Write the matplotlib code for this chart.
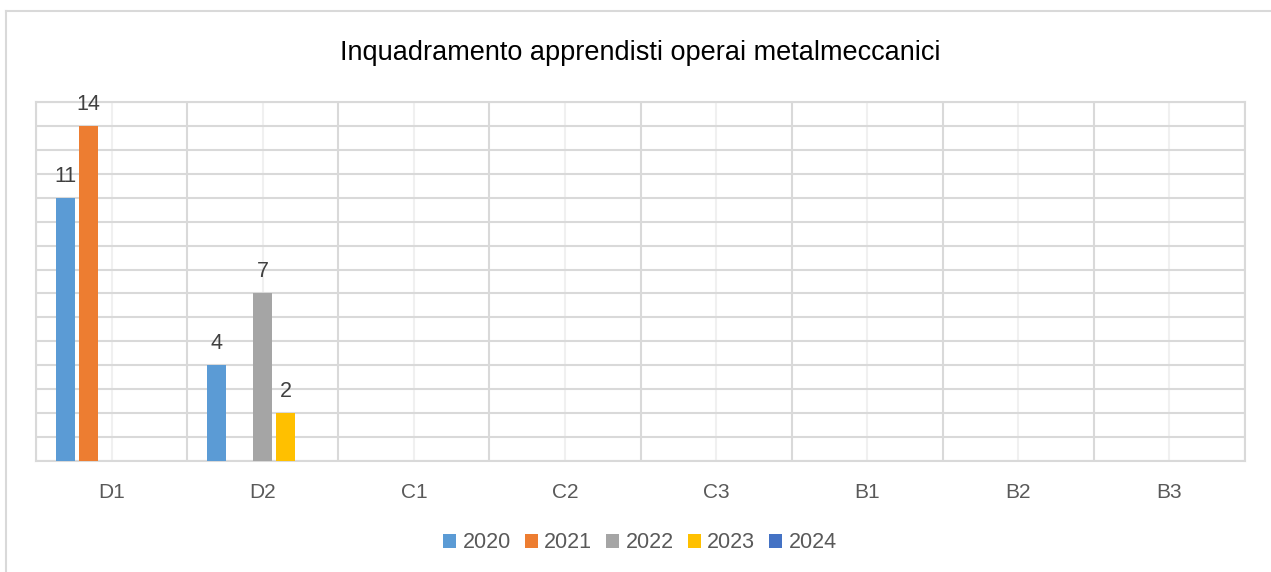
import matplotlib
matplotlib.use("Agg")
import matplotlib.pyplot as plt
from matplotlib.lines import Line2D
from matplotlib.patches import Patch
import numpy as np

plt.rcParams["font.family"] = ["Liberation Sans Narrow", "Liberation Sans", "DejaVu Sans"]

# dati
categorie = ["D1", "D2", "C1", "C2", "C3", "B1", "B2", "B3"]
anni = ["2020", "2021", "2022", "2023", "2024"]
v2020 = [11, 4, 0, 0, 0, 0, 0, 0]
v2021 = [14, 0, 0, 0, 0, 0, 0, 0]
v2022 = [0, 7, 0, 0, 0, 0, 0, 0]
v2023 = [0, 2, 0, 0, 0, 0, 0, 0]
v2024 = [0, 0, 0, 0, 0, 0, 0, 0]
serie = [v2020, v2021, v2022, v2023, v2024]
colori = ["#5B9BD5", "#ED7D31", "#A5A5A5", "#FFC000", "#4472C4"]

W, H = 1271, 572
fig = plt.figure(figsize=(W / 100, H / 100), dpi=100)
ax = fig.add_axes([36 / W, 1 - 461 / H, (1245 - 36) / W, (461 - 102) / H])

x = np.arange(len(categorie))
passo = 0.152
larg = 0.126
for i, (vals, col) in enumerate(zip(serie, colori)):
    pos = x + (i - 2) * passo
    ax.bar(pos, vals, width=larg, color=col, zorder=3)
    for p, v in zip(pos, vals):
        if v > 0:
            ax.annotate(str(v), (p, v), xytext=(0, 8), textcoords="offset points",
                        ha="center", va="bottom", fontsize=15.5, color="#404040")

ax.set_xlim(-0.5, len(categorie) - 0.5)
ax.set_ylim(0, 15)
ax.set_yticks(range(16))
ax.set_yticklabels([])
ax.set_xticks(x)
ax.set_xticklabels(categorie, fontsize=15, color="#595959")
ax.set_xticks(np.arange(-0.5, len(categorie)), minor=True)
ax.tick_params(axis="both", which="both", length=0)
ax.tick_params(axis="x", pad=16)

ax.grid(axis="y", color="#D9D9D9", linewidth=1.5, zorder=0)
ax.grid(axis="x", which="major", color="#F0F0F0", linewidth=1.5, zorder=0)
ax.grid(axis="x", which="minor", color="#D9D9D9", linewidth=1.5, zorder=0)
for s in ax.spines.values():
    s.set_color("#D9D9D9")
    s.set_linewidth(1.5)

fig.text(640 / W, 1 - 53 / H, "Inquadramento apprendisti operai metalmeccanici",
         ha="center", va="center", fontsize=19.5, color="#000000")

handles = [Patch(facecolor=c, edgecolor="none") for c in colori]
fig.legend(handles, anni, loc="center", bbox_to_anchor=(640 / W, 1 - 543 / H),
           ncol=5, frameon=False, fontsize=15.5, handlelength=0.6, handleheight=0.6,
           handletextpad=0.3, columnspacing=0.65, labelcolor="#595959")

# cornice del grafico
fig.add_artist(Line2D([6 / W, 1], [1 - 11 / H, 1 - 11 / H], color="#D9D9D9", linewidth=1.5))
fig.add_artist(Line2D([6 / W, 6 / W], [0, 1 - 11 / H], color="#D9D9D9", linewidth=1.5))

fig.savefig("out.png", dpi=100)
